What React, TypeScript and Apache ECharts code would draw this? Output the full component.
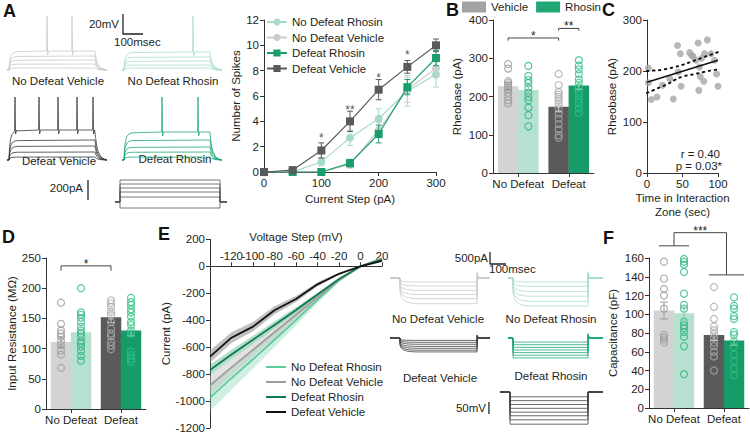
import React, { useEffect, useRef } from 'react';
import * as echarts from 'echarts';

const FONT = '"Liberation Sans", Arial, Helvetica, sans-serif';
const TXT = '#231f20';
const AX = '#333333';
const FS = 11.5;

// ---------------- Panel A : spikes vs current step ----------------
const CURRENT_STEPS = [0, 50, 100, 150, 200, 250, 300];
const SPK_ND_RHO = [0, 0, 0.8, 2.7, 4.2, 6.4, 7.7];
const SPK_ND_RHO_SEM = [0, 0, 0.3, 0.6, 0.8, 1.2, 1.0];
const SPK_ND_VEH = [0, 0, 0, 0.6, 3.3, 6.5, 8.2];
const SPK_ND_VEH_SEM = [0, 0, 0, 0.3, 0.6, 1.0, 0.7];
const SPK_D_RHO = [0, 0, 0, 0.7, 3.0, 6.7, 9.0];
const SPK_D_RHO_SEM = [0, 0, 0, 0.3, 0.7, 0.6, 0.6];
const SPK_D_VEH = [0, 0.15, 1.7, 4.0, 6.5, 8.3, 10.0];
const SPK_D_VEH_SEM = [0, 0.1, 0.6, 0.8, 0.8, 0.5, 0.5];
const SPK_SIG_X = [100, 150, 200, 250];
const SPK_SIG_Y = [2.7, 4.9, 7.4, 9.2];
const SPK_SIG_TXT = ['*', '**', '*', '*'];

// ---------------- Bar panels ----------------
const GROUPS = ['No Defeat', 'Defeat'];
// B: rheobase (pA)
const RHEO_MEAN_VEH = [227, 173];
const RHEO_MEAN_RHO = [217, 229];
const RHEO_SEM_VEH = [9, 13];
const RHEO_SEM_RHO = [13, 10];
const RHEO_ND_VEH = [285, 273, 240, 235, 230, 224, 218, 210, 200, 190, 182];
const RHEO_ND_RHO = [280, 254, 243, 235, 223, 210, 199, 190, 171, 151, 122];
const RHEO_D_VEH = [259, 230, 212, 205, 199, 190, 180, 169, 155, 142, 128, 114, 99, 92];
const RHEO_D_RHO = [295, 281, 271, 259, 245, 236, 224, 212, 203, 192, 182, 169, 157];
// D: input resistance (MOhm)
const RIN_MEAN_VEH = [111, 152];
const RIN_MEAN_RHO = [127, 130];
const RIN_SEM_VEH = [8, 9];
const RIN_SEM_RHO = [8, 9];
const RIN_ND_VEH = [176, 141, 130, 125, 120, 112, 106, 97, 90, 68];
const RIN_ND_RHO = [200, 160, 156, 151, 144, 136, 130, 125, 120, 112, 108, 103, 96, 88, 80];
const RIN_D_VEH = [180, 175, 169, 161, 155, 144, 133, 125, 120, 111, 105, 99];
const RIN_D_RHO = [184, 177, 172, 165, 160, 153, 144, 139, 130, 125, 95, 89, 83, 78];
// F: capacitance (pF)
const CAP_MEAN_VEH = [104, 78];
const CAP_MEAN_RHO = [101, 72];
const CAP_SEM_VEH = [9, 6];
const CAP_SEM_RHO = [8, 5];
const CAP_ND_VEH = [156, 138, 127, 120, 106, 78, 75, 73, 70];
const CAP_ND_RHO = [159, 156, 153, 145, 122, 110, 106, 92, 88, 85, 81, 76, 66, 36];
const CAP_D_VEH = [129, 108, 95, 87, 83, 79, 75, 70, 66, 60, 55, 40];
const CAP_D_RHO = [118, 109, 106, 98, 95, 81, 78, 71, 65, 57, 50, 42, 35];

// ---------------- Panel C : correlation ----------------
const C_TIME = [2, 2, 6, 14, 22, 32, 37, 43, 44, 47, 48, 60, 63, 65, 69, 72, 73, 74, 75, 77, 80, 81, 85, 90, 95, 98, 100];
const C_RHEO = [206, 177, 144, 149, 172, 185, 145, 250, 198, 234, 170, 236, 231, 228, 221, 255, 162, 208, 189, 225, 180, 234, 261, 234, 221, 194, 170];
const C_FIT_X = [0, 100];
const C_FIT_Y = [178, 221];
const C_CI_X = [0, 10, 20, 30, 40, 50, 60, 70, 80, 90, 100];
const C_CI_UP = [200, 201, 202, 205, 208, 212, 217, 222, 227, 232, 237];
const C_CI_LO = [157, 163, 169, 175, 183, 189, 192, 195, 198, 201, 203];

// ---------------- Panel E : I-V ----------------
const IV_V = [-140, -120, -100, -80, -60, -40, -20, 0, 20];
const IV_ND_RHO = [-975, -830, -690, -545, -400, -250, -105, 0, 58];
const IV_ND_RHO_SEM = [100, 85, 70, 55, 40, 25, 12, 0, 6];
const IV_ND_VEH = [-885, -750, -620, -490, -360, -230, -100, 0, 55];
const IV_ND_VEH_SEM = [70, 60, 50, 40, 30, 20, 10, 0, 5];
const IV_D_RHO = [-770, -655, -545, -435, -325, -210, -95, 0, 50];
const IV_D_RHO_SEM = [40, 35, 30, 25, 20, 14, 8, 0, 5];
const IV_D_VEH = [-670, -530, -448, -326, -243, -134, -56, 0, 40];
const IV_D_VEH_SEM = [45, 40, 35, 30, 22, 15, 8, 0, 5];

// ---------------- Example traces (A: current clamp) ----------------
const REST_MV = -70;
const CC_T = [0, 10, 13, 18, 25, 35, 50, 440, 443, 448, 456, 470, 490, 500];
const CC_F = [0, 0, 0.45, 0.7, 0.85, 0.93, 0.97, 1, 0.75, 0.5, 0.28, 0.1, 0.02, 0];
const A_ND_VEH_LEVELS = [2, 6, 10, 14, 19];
const A_ND_VEH_SPIKES = [200, 325];
const A_ND_RHO_LEVELS = [2, 5, 9, 13, 18];
const A_ND_RHO_SPIKES = [355];
const A_D_VEH_LEVELS = [3, 8, 14, 20, 30];
const A_D_VEH_SPIKES = [40, 160, 255, 350, 430];
const A_D_RHO_LEVELS = [3, 8, 13, 20, 28];
const A_D_RHO_SPIKES = [200, 380];
const A_ND_PEAK = -16;
const A_D_PEAK = -7;
const I_STEP_LEVELS = [-60, 50, 100, 140, 180, 220];
const I_STEP_T = [150, 175, 175, 675, 675, 710];
const I_STEP_F = [0, 0, 1, 1, 0, 0];

// ---------------- Example traces (E: voltage clamp) ----------------
const VC_T_REL = [0, 1, 8, 20, 40, 70, 100];
const VC_F_SAG = [0, 0.55, 0.72, 0.84, 0.93, 0.98, 1];
const VC_F_SQUARE = [0, 1, 1, 1, 1, 1, 1];
const E_ND_VEH_LEVELS = [-170, -330, -510, -690, -860, -1070];
const E_ND_RHO_LEVELS = [-170, -350, -560, -760, -970, -1170];
const E_D_VEH_LEVELS = [-100, -180, -260, -350, -430, -510, -580];
const E_D_RHO_LEVELS = [-170, -280, -390, -500, -610, -720, -830];
const V_STEP_LEVELS = [-20, -36, -52, -68, -84, -99, -116, -134];
const V_STEP_T = [125, 187.5, 187.5, 675, 675, 768.75];
const V_STEP_F = [0, 0, 1, 1, 0, 0];

const COL = {
  ndVeh: '#d3d3d3',
  ndRho: '#b6e0cf',
  dVeh: '#5a5a5a',
  dRho: '#179c69',
};

function ccSweep(level: number, spikes: number[], peak: number) {
  const pts: number[][] = CC_T.map((t, i) => [t, REST_MV + level * CC_F[i]]);
  spikes.forEach((ts) => {
    const p = REST_MV + level;
    pts.push([ts - 2, p], [ts, peak], [ts + 3, p - 4], [ts + 8, p]);
  });
  return pts.sort((a, b) => a[0] - b[0]);
}

function vcSweep(level: number, on: number, off: number, end: number, shape: number[]) {
  const pts: number[][] = [[0, 0], [on, 0]];
  VC_T_REL.forEach((dt, i) => pts.push([on + dt, level * shape[i]]));
  pts.push([off, level], [off + 1, -0.22 * level], [off + 8, 0], [end, 0]);
  return pts;
}

function traceSeries(gi: number, pts: number[][], color: string, width = 0.8) {
  return {
    type: 'line', xAxisIndex: gi, yAxisIndex: gi, data: pts, symbol: 'none', silent: true,
    lineStyle: { color, width }, z: 2, clip: false,
  };
}

function errSeries(gi: number, pts: number[][], color: string, cap: number, z = 4) {
  return {
    type: 'custom', xAxisIndex: gi, yAxisIndex: gi, silent: true, z,
    encode: { x: 0, y: 1 },
    data: pts,
    renderItem: (params: any, api: any) => {
      const x = api.value(0), m = api.value(1), e = api.value(2);
      const hi = api.coord([x, m + e]);
      const lo = api.coord([x, m - e]);
      const st = { stroke: color, lineWidth: 1, fill: null };
      return {
        type: 'group', children: [
          { type: 'line', shape: { x1: hi[0], y1: hi[1], x2: lo[0], y2: lo[1] }, style: st },
          { type: 'line', shape: { x1: hi[0] - cap, y1: hi[1], x2: hi[0] + cap, y2: hi[1] }, style: st },
          { type: 'line', shape: { x1: lo[0] - cap, y1: lo[1], x2: lo[0] + cap, y2: lo[1] }, style: st },
        ],
      };
    },
  };
}

type Bracket = { x1: number; x2: number; y: number; drop: number; text: string };
function bracketSeries(gi: number, items: Bracket[]) {
  return {
    type: 'custom', xAxisIndex: gi, yAxisIndex: gi, silent: true, z: 6,
    data: items.map((b) => [b.x1, b.x2, b.y, b.drop]),
    encode: { x: [0, 1], y: 2 },
    renderItem: (params: any, api: any) => {
      const b = items[params.dataIndex];
      const p1 = api.coord([b.x1, b.y - b.drop]);
      const p2 = api.coord([b.x1, b.y]);
      const p3 = api.coord([b.x2, b.y]);
      const p4 = api.coord([b.x2, b.y - b.drop]);
      return {
        type: 'group', children: [
          { type: 'polyline', shape: { points: [p1, p2, p3, p4] }, style: { stroke: '#444', lineWidth: 1, fill: null } },
          { type: 'text', style: { text: b.text, x: (p2[0] + p3[0]) / 2, y: p2[1] + 4, align: 'center', verticalAlign: 'bottom', fill: TXT, font: `12px ${FONT}` } },
        ],
      };
    },
  };
}

type GroupBracket = { l1: number; l2: number; ly: number; r1: number; r2: number; ry: number; top: number; text: string };
function groupBracketSeries(gi: number, b: GroupBracket) {
  return {
    type: 'custom', xAxisIndex: gi, yAxisIndex: gi, silent: true, z: 6,
    data: [[b.l1, b.top]],
    renderItem: (params: any, api: any) => {
      const lc = (b.l1 + b.l2) / 2;
      const rc = (b.r1 + b.r2) / 2;
      const a1 = api.coord([b.l1, b.ly]), a2 = api.coord([b.l2, b.ly]);
      const c1 = api.coord([b.r1, b.ry]), c2 = api.coord([b.r2, b.ry]);
      const t1 = api.coord([lc, b.ly]), t2 = api.coord([lc, b.top]);
      const t3 = api.coord([rc, b.top]), t4 = api.coord([rc, b.ry]);
      const st = { stroke: '#444', lineWidth: 1, fill: null };
      return {
        type: 'group', children: [
          { type: 'line', shape: { x1: a1[0], y1: a1[1], x2: a2[0], y2: a2[1] }, style: st },
          { type: 'line', shape: { x1: c1[0], y1: c1[1], x2: c2[0], y2: c2[1] }, style: st },
          { type: 'polyline', shape: { points: [t1, t2, t3, t4] }, style: st },
          { type: 'text', style: { text: b.text, x: (t2[0] + t3[0]) / 2, y: t2[1] + 4, align: 'center', verticalAlign: 'bottom', fill: TXT, font: `12px ${FONT}` } },
        ],
      };
    },
  };
}

function bandSeries(gi: number, xs: number[], mean: number[], sem: number[], color: string) {
  return {
    type: 'custom', xAxisIndex: gi, yAxisIndex: gi, silent: true, z: 1,
    data: [[xs[0], mean[0]]],
    renderItem: (params: any, api: any) => {
      const up = xs.map((x, i) => api.coord([x, mean[i] + sem[i]]));
      const lo = xs.map((x, i) => api.coord([x, mean[i] - sem[i]])).reverse();
      return { type: 'polygon', shape: { points: up.concat(lo) }, style: { fill: color } };
    },
  };
}

const barPos = (g: number, k: number) => g * 2 + 1 + (k === 0 ? -0.4 : 0.4);

function barPanel(gi: number, names: [string, string], meansVeh: number[], meansRho: number[], semVeh: number[], semRho: number[], pts: number[][][]) {
  const s: any[] = [];
  s.push({
    name: names[0], type: 'bar', xAxisIndex: gi, yAxisIndex: gi, barWidth: 20.5, barGap: '-100%', z: 1,
    itemStyle: { color: '#a3a3a3' },
    data: GROUPS.map((_, g) => ({ value: [barPos(g, 0), meansVeh[g]], itemStyle: { color: g === 0 ? COL.ndVeh : COL.dVeh } })),
  });
  s.push({
    name: names[1], type: 'bar', xAxisIndex: gi, yAxisIndex: gi, barWidth: 20.5, barGap: '-100%', z: 1,
    itemStyle: { color: '#1fa774' },
    data: GROUPS.map((_, g) => ({ value: [barPos(g, 1), meansRho[g]], itemStyle: { color: g === 0 ? COL.ndRho : COL.dRho } })),
  });
  const strokes = ['#9c9c9c', '#2db67f', '#a9a9a9', '#2fbf84'];
  pts.forEach((arr, idx) => {
    const g = idx < 2 ? 0 : 1;
    const k = idx % 2;
    s.push({
      type: 'scatter', xAxisIndex: gi, yAxisIndex: gi, symbol: 'circle', symbolSize: 7, z: 3, silent: true,
      itemStyle: { color: 'rgba(255,255,255,0)', borderColor: strokes[idx], borderWidth: 1.2 },
      data: arr.map((v) => [barPos(g, k), v]),
    });
  });
  const errCols = ['#9a9a9a', '#86cfae', '#c4c4c4', '#7fd6ae'];
  s.push(errSeries(gi, [[barPos(0, 0), meansVeh[0], semVeh[0]]], errCols[0], 4));
  s.push(errSeries(gi, [[barPos(0, 1), meansRho[0], semRho[0]]], errCols[1], 4));
  s.push(errSeries(gi, [[barPos(1, 0), meansVeh[1], semVeh[1]]], errCols[2], 4));
  s.push(errSeries(gi, [[barPos(1, 1), meansRho[1], semRho[1]]], errCols[3], 4));
  return s;
}

const plainNum = (v: number) => String(v);

function axisBase(extra: any) {
  return {
    type: 'value',
    axisLine: { show: true, onZero: false, lineStyle: { color: AX, width: 1 } },
    axisTick: { show: true, length: 4, lineStyle: { color: AX } },
    axisLabel: { color: TXT, fontSize: FS, fontFamily: FONT, margin: 5, formatter: plainNum },
    splitLine: { show: false },
    nameLocation: 'middle',
    nameTextStyle: { color: TXT, fontSize: FS, fontFamily: FONT },
    ...extra,
  };
}

function groupX(gi: number) {
  return axisBase({
    gridIndex: gi, min: 0, max: 4, interval: 1,
    axisTick: { show: true, length: 4, lineStyle: { color: AX }, customValues: [1, 3] },
    axisLabel: {
      color: TXT, fontSize: FS, fontFamily: FONT, margin: 5, customValues: [1, 3],
      formatter: (v: number) => (v === 1 ? GROUPS[0] : v === 3 ? GROUPS[1] : ''),
    },
  });
}

const hid = (gi: number, min: number, max: number) => ({ gridIndex: gi, type: 'value', min, max, show: false });

function buildOption() {
  const grid = [
    { left: 264, top: 20, width: 172, height: 152 }, // 0 A
    { left: 493, top: 20, width: 101, height: 153 }, // 1 B
    { left: 647, top: 20, width: 71, height: 153 }, // 2 C
    { left: 46, top: 258, width: 100, height: 151 }, // 3 D
    { left: 210, top: 239.3, width: 172, height: 188.7 }, // 4 E
    { left: 649, top: 258, width: 100, height: 150 }, // 5 F
    { left: 7, top: 10, width: 140, height: 65 }, // 6 A trace ND veh
    { left: 122, top: 10, width: 100, height: 65 }, // 7 A trace ND rho
    { left: 7, top: 92, width: 100, height: 75 }, // 8 A trace D veh
    { left: 122, top: 92, width: 100, height: 75 }, // 9 A trace D rho
    { left: 85, top: 172, width: 142, height: 40 }, // 10 A current steps
    { left: 390, top: 248, width: 116, height: 60 }, // 11 E trace ND veh
    { left: 508, top: 268, width: 100, height: 40 }, // 12 E trace ND rho
    { left: 390, top: 328, width: 100, height: 40 }, // 13 E trace D veh
    { left: 508, top: 328, width: 100, height: 40 }, // 14 E trace D rho
    { left: 480, top: 380, width: 130, height: 50 }, // 15 E voltage steps
    { left: 210, top: 266.3, width: 172, height: 161.7 }, // 16 E voltage axis (at 0 pA)
  ].map((g) => ({ ...g, containLabel: false, outerBoundsMode: 'none' }));

  const xAxis: any[] = [
    axisBase({ gridIndex: 0, min: 0, max: 300, interval: 100, name: 'Current Step (pA)', nameGap: 21 }),
    groupX(1),
    axisBase({ gridIndex: 2, min: 0, max: 100, interval: 50, name: 'Time in Interaction\nZone (sec)', nameGap: 18, nameTextStyle: { color: TXT, fontSize: FS, fontFamily: FONT, lineHeight: 14 } }),
    groupX(3),
    hid(4, -140, 20),
    groupX(5),
    hid(6, 0, 700), hid(7, 0, 500), hid(8, 0, 500), hid(9, 0, 500), hid(10, 0, 710),
    hid(11, 0, 725), hid(12, 0, 625), hid(13, 0, 625), hid(14, 0, 625), hid(15, 0, 812.5),
    axisBase({
      gridIndex: 16, min: -140, max: 20, interval: 20, position: 'top', name: 'Voltage Step (mV)', nameGap: 23,
      axisLabel: { color: TXT, fontSize: FS, fontFamily: FONT, margin: 4, showMinLabel: false, formatter: plainNum },
    }),
  ];
  const yAxis: any[] = [
    axisBase({ gridIndex: 0, min: 0, max: 12, interval: 2, name: 'Number of Spikes', nameGap: 16 }),
    axisBase({ gridIndex: 1, min: 0, max: 400, interval: 100, name: 'Rheobase (pA)', nameGap: 30 }),
    axisBase({ gridIndex: 2, min: 0, max: 300, interval: 100, name: 'Rheobase (pA)', nameGap: 29 }),
    axisBase({ gridIndex: 3, min: 0, max: 250, interval: 50, name: 'Input Resistance (MΩ)', nameGap: 28 }),
    axisBase({ gridIndex: 4, min: -1200, max: 200, interval: 200, name: 'Current (pA)', nameGap: 31 }),
    axisBase({ gridIndex: 5, min: 0, max: 160, interval: 20, name: 'Capacitance (pF)', nameGap: 30 }),
    hid(6, -75, -10), hid(7, -75, -10), hid(8, -77, -2), hid(9, -77, -2), hid(10, -100, 300),
    hid(11, -1250, 1250), hid(12, -1250, 416.7), hid(13, -1250, 416.7), hid(14, -1250, 416.7), hid(15, -158.3, 50),
    hid(16, -1200, 0),
  ];

  const series: any[] = [];

  // ---- A: spikes line chart
  const aLines = [
    { name: 'No Defeat Rhosin', d: SPK_ND_RHO, e: SPK_ND_RHO_SEM, c: '#a6dbc5', sym: 'circle' },
    { name: 'No Defeat Vehicle', d: SPK_ND_VEH, e: SPK_ND_VEH_SEM, c: '#cccccc', sym: 'circle' },
    { name: 'Defeat Rhosin', d: SPK_D_RHO, e: SPK_D_RHO_SEM, c: '#1b9e6b', sym: 'rect' },
    { name: 'Defeat Vehicle', d: SPK_D_VEH, e: SPK_D_VEH_SEM, c: '#5a5a5a', sym: 'rect' },
  ];
  aLines.forEach((l, i) => {
    series.push(errSeries(0, CURRENT_STEPS.map((x, j) => [x, l.d[j], l.e[j]]).filter((p) => p[2] > 0), l.c, 3, 3 + i * 2));
    series.push({
      name: l.name, type: 'line', xAxisIndex: 0, yAxisIndex: 0, symbol: l.sym, symbolSize: 8,
      data: CURRENT_STEPS.map((x, j) => [x, l.d[j]]), lineStyle: { color: l.c, width: 1.2 },
      itemStyle: { color: l.c }, z: 4 + i * 2,
    });
  });
  series.push({
    type: 'scatter', xAxisIndex: 0, yAxisIndex: 0, symbolSize: 0, silent: true, z: 20,
    data: SPK_SIG_X.map((x, i) => [x, SPK_SIG_Y[i], SPK_SIG_TXT[i]]),
    label: { show: true, position: 'inside', formatter: (p: any) => p.data[2], color: TXT, fontSize: 12, fontFamily: FONT },
  });

  // ---- B
  series.push(...barPanel(1, ['Vehicle', 'Rhosin'], RHEO_MEAN_VEH, RHEO_MEAN_RHO, RHEO_SEM_VEH, RHEO_SEM_RHO, [RHEO_ND_VEH, RHEO_ND_RHO, RHEO_D_VEH, RHEO_D_RHO]));
  series.push(bracketSeries(1, [
    { x1: barPos(0, 0), x2: barPos(1, 0), y: 353, drop: 7, text: '*' },
    { x1: barPos(1, 0), x2: barPos(1, 1), y: 378, drop: 6, text: '**' },
  ]));

  // ---- C
  series.push({
    type: 'scatter', xAxisIndex: 2, yAxisIndex: 2, symbolSize: 7, silent: true,
    itemStyle: { color: '#a6a6a6' }, data: C_TIME.map((x, i) => [x, C_RHEO[i]]), z: 2,
  });
  series.push({
    type: 'line', xAxisIndex: 2, yAxisIndex: 2, symbol: 'none', silent: true, z: 3,
    lineStyle: { color: '#111', width: 1.5 }, data: C_FIT_X.map((x, i) => [x, C_FIT_Y[i]]),
  });
  [C_CI_UP, C_CI_LO].forEach((arr) => series.push({
    type: 'line', xAxisIndex: 2, yAxisIndex: 2, symbol: 'none', silent: true, z: 3, smooth: true,
    lineStyle: { color: '#111', width: 2, type: [1.5, 4.5], cap: 'round' }, data: C_CI_X.map((x, i) => [x, arr[i]]),
  }));

  // ---- D
  series.push(...barPanel(3, ['D Vehicle', 'D Rhosin'], RIN_MEAN_VEH, RIN_MEAN_RHO, RIN_SEM_VEH, RIN_SEM_RHO, [RIN_ND_VEH, RIN_ND_RHO, RIN_D_VEH, RIN_D_RHO]));
  series.push(bracketSeries(3, [{ x1: barPos(0, 0), x2: barPos(1, 0), y: 237, drop: 8, text: '*' }]));

  // ---- E IV
  const eLines = [
    { name: 'E:No Defeat Rhosin', d: IV_ND_RHO, e: IV_ND_RHO_SEM, c: '#5fcb9b', band: 'rgba(120,205,170,0.35)' },
    { name: 'E:No Defeat Vehicle', d: IV_ND_VEH, e: IV_ND_VEH_SEM, c: '#9e9e9e', band: 'rgba(190,190,190,0.45)' },
    { name: 'E:Defeat Rhosin', d: IV_D_RHO, e: IV_D_RHO_SEM, c: '#0f7a4c', band: 'rgba(40,160,110,0.35)' },
    { name: 'E:Defeat Vehicle', d: IV_D_VEH, e: IV_D_VEH_SEM, c: '#111111', band: 'rgba(140,140,140,0.55)' },
  ];
  eLines.forEach((l) => series.push(bandSeries(4, IV_V, l.d, l.e, l.band)));
  eLines.forEach((l, i) => series.push({
    name: l.name, type: 'line', xAxisIndex: 4, yAxisIndex: 4, symbol: 'none', silent: true, z: 3 + i,
    lineStyle: { color: l.c, width: 1.8 }, itemStyle: { color: l.c }, data: IV_V.map((v, j) => [v, l.d[j]]),
  }));

  // ---- F
  series.push(...barPanel(5, ['F Vehicle', 'F Rhosin'], CAP_MEAN_VEH, CAP_MEAN_RHO, CAP_SEM_VEH, CAP_SEM_RHO, [CAP_ND_VEH, CAP_ND_RHO, CAP_D_VEH, CAP_D_RHO]));
  series.push(groupBracketSeries(5, { l1: 0.4, l2: 1.6, ly: 173, r1: 2.4, r2: 3.8, ry: 142, top: 187, text: '***' }));

  // ---- A traces
  A_ND_VEH_LEVELS.forEach((L, i) => series.push(traceSeries(6, ccSweep(L, i === A_ND_VEH_LEVELS.length - 1 ? A_ND_VEH_SPIKES : [], A_ND_PEAK), '#c9c9c9')));
  A_ND_RHO_LEVELS.forEach((L, i) => series.push(traceSeries(7, ccSweep(L, i === A_ND_RHO_LEVELS.length - 1 ? A_ND_RHO_SPIKES : [], A_ND_PEAK), '#a9ddc7')));
  A_D_VEH_LEVELS.forEach((L, i) => series.push(traceSeries(8, ccSweep(L, i === A_D_VEH_LEVELS.length - 1 ? A_D_VEH_SPIKES : [], A_D_PEAK), '#3a3a3a')));
  A_D_RHO_LEVELS.forEach((L, i) => series.push(traceSeries(9, ccSweep(L, i === A_D_RHO_LEVELS.length - 1 ? A_D_RHO_SPIKES : [], A_D_PEAK), '#1fa774')));
  I_STEP_LEVELS.forEach((L) => series.push(traceSeries(10, I_STEP_T.map((t, i) => [t, L * I_STEP_F[i]]), '#555555')));
  // scale bars (A)
  series.push(traceSeries(6, [[680, -34], [580, -34], [580, -14]], '#222', 1.3));
  series.push(traceSeries(10, [[15, 20], [15, 220]], '#222', 1.3));

  // ---- E traces
  E_ND_VEH_LEVELS.forEach((L) => series.push(traceSeries(11, vcSweep(L, 62, 544, 625, VC_F_SAG), '#c9c9c9')));
  E_ND_RHO_LEVELS.forEach((L) => series.push(traceSeries(12, vcSweep(L, 31, 500, 594, VC_F_SAG), '#a9ddc7')));
  E_D_VEH_LEVELS.forEach((L) => series.push(traceSeries(13, vcSweep(L, 62, 544, 625, VC_F_SAG), '#444444')));
  E_D_RHO_LEVELS.forEach((L) => series.push(traceSeries(14, vcSweep(L, 31, 500, 594, VC_F_SQUARE), '#1fa774')));
  V_STEP_LEVELS.forEach((L) => series.push(traceSeries(15, V_STEP_T.map((t, i) => [t, L * V_STEP_F[i]]), '#444444')));
  series.push(traceSeries(11, [[625, 1083], [625, 583], [725, 583]], '#222', 1.3));
  series.push(traceSeries(15, [[56, -41.7], [56, -91.7]], '#222', 1.3));

  const t = (text: string, x: number, y: number, align = 'center', font = `${FS}px ${FONT}`) => ({
    type: 'text', silent: true, style: { text, x, y, align, verticalAlign: 'middle', fill: TXT, font },
  });
  const L = (text: string, x: number, y: number) => ({
    type: 'text', silent: true, style: { text, x, y, align: 'left', verticalAlign: 'top', fill: '#111', font: `bold 18px ${FONT}` },
  });

  const graphic = [
    L('A', 3, 2), L('B', 446, 1), L('C', 602, 1), L('D', 2, 228), L('E', 158, 225), L('F', 603, 229),
    t('No Defeat Vehicle', 58, 81), t('No Defeat Rhosin', 173, 81),
    t('Defeat Vehicle', 59, 161), t('Defeat Rhosin', 175, 159),
    t('20mV', 119, 24, 'right'), t('100msec', 114, 42, 'left'), t('200pA', 83, 188, 'right'),
    t('No Defeat Vehicle', 438, 319), t('No Defeat Rhosin', 551, 319),
    t('Defeat Vehicle', 440, 378), t('Defeat Rhosin', 551, 376),
    t('500pA', 488, 258, 'right'), t('100msec', 489, 269, 'left'), t('50mV', 486, 408, 'right'),
    t('r = 0.40', 720, 154, 'right'), t('p = 0.03*', 722, 166, 'right'),
  ];

  const legendText = { color: TXT, fontSize: FS, fontFamily: FONT };
  const legend = [
    {
      data: ['No Defeat Rhosin', 'No Defeat Vehicle', 'Defeat Rhosin', 'Defeat Vehicle'],
      orient: 'vertical', left: 266, top: 16, itemWidth: 20, itemHeight: 9, itemGap: 3.5, padding: 0,
      textStyle: legendText, selectedMode: false,
    },
    {
      data: ['Vehicle', 'Rhosin'], orient: 'horizontal', left: 462, top: 1, itemWidth: 24, itemHeight: 11,
      itemGap: 8, padding: 0, icon: 'rect', textStyle: legendText, selectedMode: false,
    },
    {
      data: eLines.map((l) => l.name), orient: 'vertical', left: 266, top: 361, itemWidth: 20, itemHeight: 2,
      icon: 'rect', itemGap: 3, padding: 0, textStyle: { ...legendText, lineHeight: 12 }, selectedMode: false,
      formatter: (n: string) => n.replace(/^E:/, ''),
    },
  ];

  return {
    animation: false,
    backgroundColor: '#ffffff',
    textStyle: { fontFamily: FONT, color: TXT },
    grid, xAxis, yAxis, series, graphic, legend,
  };
}

export default function App() {
  const ref = useRef<HTMLDivElement>(null);
  useEffect(() => {
    const chart = echarts.init(ref.current as HTMLDivElement, null, { renderer: 'svg' });
    chart.setOption(buildOption() as any);
    return () => chart.dispose();
  }, []);
  return <div ref={ref} style={{ position: 'fixed', left: 0, top: 0, width: 750, height: 434, background: '#fff' }} />;
}
